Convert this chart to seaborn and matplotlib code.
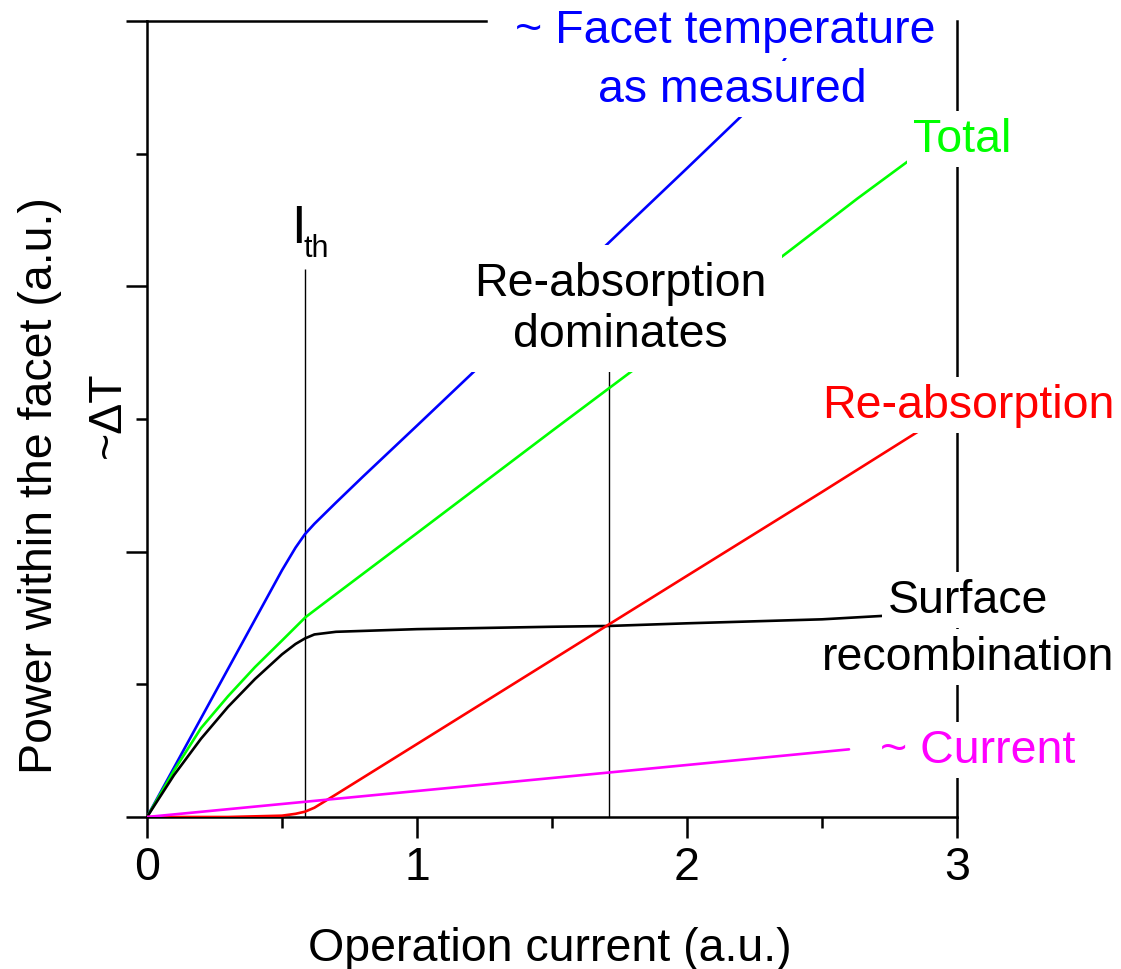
import matplotlib
matplotlib.use("Agg")
import matplotlib.pyplot as plt
import pandas as pd
import seaborn as sns

# Operation current (a.u.) and the power terms within the facet (a.u.)
facet_temp_x = [0, 0.25, 0.5, 0.55, 0.585, 0.62, 0.7, 0.8, 1.0, 1.233, 1.5, 1.752, 2.0, 2.215, 2.30, 2.37, 2.42]
facet_temp_y = [0, 0.465, 0.93, 1.015, 1.066, 1.105, 1.185, 1.283, 1.475, 1.70, 1.96, 2.205, 2.445, 2.655, 2.755, 2.87, 2.94]

total_x = [0, 0.1, 0.2, 0.3, 0.4, 0.5, 0.587, 0.7, 1.0, 1.5, 1.807, 2.0, 2.381, 2.63, 2.87]
total_y = [0, 0.175, 0.335, 0.455, 0.565, 0.665, 0.753, 0.84, 1.07, 1.455, 1.689, 1.84, 2.135, 2.33, 2.51]

surface_x = [0, 0.1, 0.2, 0.3, 0.4, 0.5, 0.55, 0.585, 0.62, 0.7, 1.0, 1.5, 1.711, 2.0, 2.5, 2.76]
surface_y = [0, 0.158, 0.295, 0.415, 0.52, 0.613, 0.652, 0.673, 0.688, 0.698, 0.708, 0.717, 0.72, 0.73, 0.745, 0.76]

reabs_x = [0, 0.3, 0.5, 0.55, 0.585, 0.62, 0.7, 1.0, 1.5, 1.711, 2.0, 2.5, 2.93]
reabs_y = [0, 0.0, 0.005, 0.012, 0.02, 0.035, 0.085, 0.275, 0.592, 0.726, 0.909, 1.225, 1.50]

current_x = [0, 0.5, 1.0, 1.5, 2.0, 2.6]
current_y = [0, 0.049, 0.098, 0.147, 0.196, 0.255]

threshold_x = 0.585      # I_th
threshold_top = 2.065
crossover_x = 1.711      # re-absorption equals surface recombination
crossover_top = 1.69

x_ticks = [0, 1, 2, 3]
x_minor = [0.5, 1.5, 2.5]
y_ticks = [0, 1, 2, 3]
y_minor = [0.5, 1.5, 2.5]

series = {
    "facet": (facet_temp_x, facet_temp_y, "#0000FF"),
    "total": (total_x, total_y, "#00FF00"),
    "surface": (surface_x, surface_y, "#000000"),
    "reabsorption": (reabs_x, reabs_y, "#FF0000"),
    "current": (current_x, current_y, "#FF00FF"),
}

frames = []
for name, (xs, ys, _) in series.items():
    frames.append(pd.DataFrame({"current": xs, "power": ys, "term": name}))
df = pd.concat(frames, ignore_index=True)
palette = {name: c for name, (_, _, c) in series.items()}

sns.set_theme(style="ticks", rc={"axes.edgecolor": "black", "axes.linewidth": 1.8,
                                 "xtick.color": "black", "ytick.color": "black",
                                 "text.color": "black", "axes.labelcolor": "black"})
plt.rcParams["font.family"] = ["Liberation Sans", "DejaVu Sans"]

W, H = 1121, 970
fig = plt.figure(figsize=(W / 100, H / 100), dpi=100)
ax = fig.add_axes([147 / W, 152 / H, 810 / W, 796 / H])

sns.lineplot(data=df, x="current", y="power", hue="term", palette=palette,
             estimator=None, legend=False, linewidth=1.9, ax=ax, zorder=3)

ax.vlines([threshold_x], 0, threshold_top, color="black", linewidth=1.0, zorder=2)
ax.vlines([crossover_x], 0, crossover_top, color="black", linewidth=1.0, zorder=2)

ax.set_xlim(0, 3)
ax.set_ylim(0, 3)
ax.set_xticks(x_ticks)
ax.set_xticks(x_minor, minor=True)
ax.set_yticks(y_ticks)
ax.set_yticks(y_minor, minor=True)
ax.set_xticklabels([str(t) for t in x_ticks])
ax.set_yticklabels([])
ax.tick_params(which="major", length=15, width=1.8, direction="out", labelsize=33.5,
               pad=5.5, labelcolor="black")
ax.tick_params(which="minor", length=8, width=1.8, direction="out")
ax.tick_params(top=False, right=False, which="both")

for s in ax.spines.values():
    s.set_visible(True)
    s.set_color("black")
    s.set_linewidth(1.8)
    s.set_zorder(2.5)
ax.spines["top"].set_bounds(0, 1.256)

ax.set_xlabel("Operation current (a.u.)", fontsize=33.5, va="baseline", color="black")
ax.xaxis.set_label_coords(0.4975, (818 - 961) / 796)
ax.set_ylabel("Power within the facet (a.u.)", fontsize=33.5, va="baseline", ha="center",
              color="black")
ax.yaxis.set_label_coords((52 - 147) / 810, (818 - 486) / 796)
ax.text((120 - 147) / 810, (818 - 415) / 796, "~\u0394T", transform=ax.transAxes,
        rotation=90, rotation_mode="anchor", ha="center", va="baseline", fontsize=33.5)

FS = 33.5
line_box = dict(boxstyle="square,pad=0.12", facecolor="white", edgecolor="none")


def px_x(p):
    return (p - 147) / 270


def px_y(p):
    return (818 - p) / 265.33


def label(xp, yp, s, color, ha="left", box=line_box, size=FS):
    ax.text(px_x(xp), px_y(yp), s, color=color, fontsize=size, ha=ha, va="baseline",
            bbox=box, zorder=6, clip_on=False)


label(725, 43, "~ Facet temperature", "#0000FF", ha="center")
label(732, 102, "as measured", "#0000FF", ha="center")
label(913, 152, "Total", "#00FF00")
label(822, 418, "Re-absorption", "#FF0000")
label(968, 613, "Surface", "black", ha="center")
label(968, 670, "recombination", "black", ha="center")
label(880, 763, "~ Current", "#FF00FF")

# two-line note; the baseline anchor is the last line
ax.text(px_x(620), px_y(347), "Re-absorption\ndominates", color="black", fontsize=FS,
        ha="center", va="baseline", multialignment="center", linespacing=1.22,
        bbox=dict(boxstyle="square,pad=0.34", facecolor="white", edgecolor="none"),
        zorder=6)

ax.text(px_x(291), px_y(243), "I", color="black", fontsize=38, ha="left", va="baseline")
ax.text(px_x(303), px_y(257), "th", color="black", fontsize=22, ha="left", va="baseline")

fig.savefig("out.png", dpi=100, facecolor="white")
